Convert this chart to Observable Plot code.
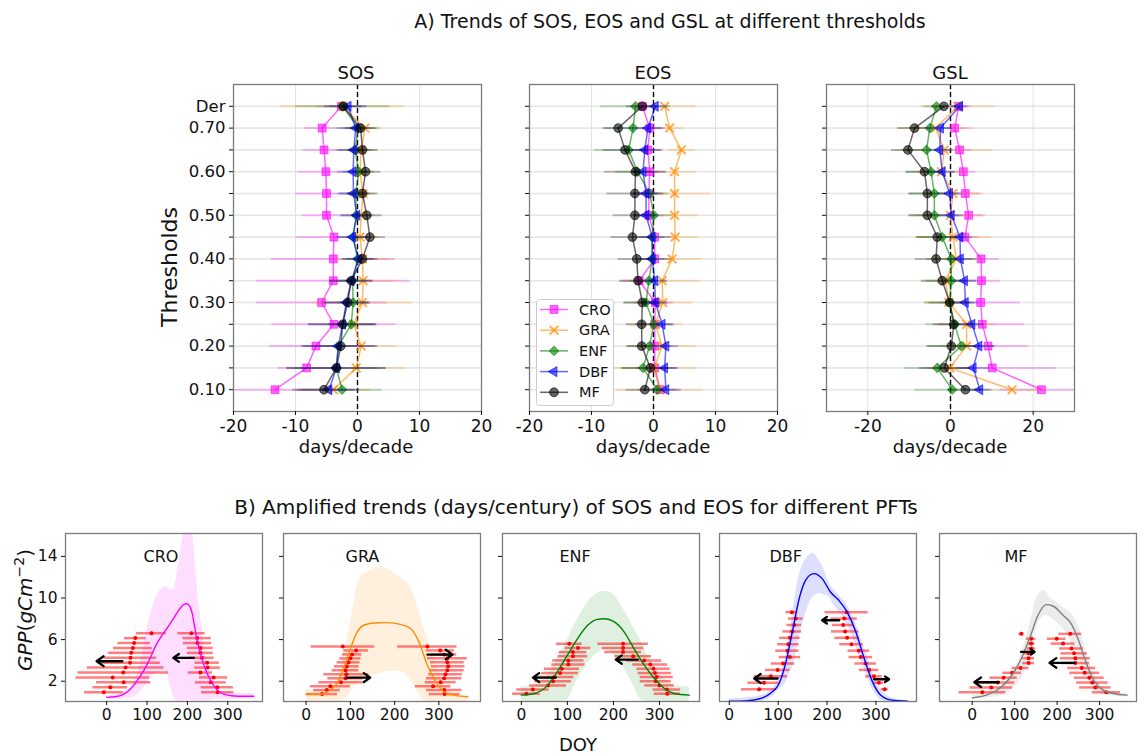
<!DOCTYPE html>
<html><head><meta charset="utf-8">
<script src="https://cdn.jsdelivr.net/npm/d3@7"></script>
<script src="https://cdn.jsdelivr.net/npm/@observablehq/plot@0.6"></script>
<style>
body{margin:0;background:#fff;}
#fig{position:relative;width:1144px;height:756px;overflow:hidden;font-family:"DejaVu Sans",sans-serif;color:#111;background:#fff;}
.abs{position:absolute;white-space:nowrap;line-height:1;}
</style></head><body><div id="fig"></div>
<script>
// ---------------- DATA ----------------
const levels = ["0.10","0.15","0.20","0.25","0.30","0.35","0.40","0.45","0.50","0.55","0.60","0.65","0.70","Der"];
const pfts = ["CRO","GRA","ENF","DBF","MF"];
const pftColors = ["#ff00ff","#ff8c00","#008000","#0000ff","#000000"];
const topPanels = ["SOS","EOS","GSL"];

// SOS trends (days/decade), thresholds 0.10 -> 0.70, then Der
const sosCRO = [-13.3,-8.2,-6.7,-3.8,-5.8,-3.9,-3.9,-3.8,-5.0,-5.0,-5.1,-5.4,-5.7,-2.6];
const sosGRA = [-3.9,-0.2,0.6,-0.6,0.8,0.9,0.8,0.4,0.6,0.9,0.4,0.6,1.2,-2.4];
const sosENF = [-2.5,-3.4,-3.1,-1.0,-0.7,-0.8,0.0,-0.7,-0.2,-0.3,0.2,-0.4,0.1,-2.4];
const sosDBF = [-4.6,-3.4,-3.1,-2.4,-1.8,-1.0,0.2,-0.8,-0.1,-0.65,-0.7,-0.6,-0.3,-1.5];
const sosMF  = [-5.4,-3.4,-2.7,-2.4,-1.6,-1.0,0.8,2.0,1.5,0.8,1.3,0.8,0.5,-2.3];
const sosErrCRO = [8,4.6,7.5,10,10.5,12.4,10,6,3.9,5,4.5,3.4,2.9,4];
const sosErrGRA = [6,7.9,5.7,3,8.1,5,4.2,3,2.3,2,1.9,2.7,2.7,10];
const sosErrENF = [6.4,6.7,3,3.8,2.5,2.5,2.5,2.5,2.5,2.5,2.5,3,3.4,7.6];
const sosErrDBF = [5,8,6,5.5,3.7,3.5,2.5,2.5,2.5,2.5,2.5,2.5,2.5,3];
const sosErrMF  = [5,8,6,5.5,3.7,3.5,2.5,2.5,2.5,2.5,2.5,2.5,2.5,3];

// EOS trends
const eosCRO = [1.1,0.2,0.2,0.2,0.3,-2.3,0.2,0.2,-0.75,-0.75,-0.6,-0.9,-0.6,-1.8];
const eosGRA = [1.0,0.1,1.4,0.3,1.5,1.4,3.0,3.5,3.4,3.4,3.4,4.5,2.6,1.8];
const eosENF = [0.6,-1.7,-0.65,0.05,-1.2,-0.75,-0.2,-0.2,0.05,-0.6,-2.6,-4.0,-3.3,-2.9];
const eosDBF = [2.0,1.8,2.0,1.4,0.3,0.2,-0.2,-0.2,-1.2,-1.2,-1.7,-1.4,-0.9,0.3];
const eosMF  = [-1.4,-0.5,-1.9,-1.9,-1.8,-2.5,-2.7,-3.4,-3.0,-3.0,-2.9,-4.6,-5.7,-1.8];
const eosErrCRO = [3,3,3,3,3,3,3,3,2.5,2.5,2.5,2.5,2.5,2];
const eosErrGRA = [7,7,5.5,4.5,4.7,6.2,4.8,3.8,3.8,5.7,3.6,2.2,2.2,5];
const eosErrENF = [3,3.5,3.5,3,3.5,3,3,3,3,3,3.5,5.5,4.5,5.7];
const eosErrDBF = [2.5,2,2,2,2,2,2,2,2,2,2,2.5,2.5,2];
const eosErrMF  = [3,4.5,2.5,2.5,3,3,3,3.5,3.5,4.5,5,3.5,2.5,2.6];

// GSL trends
const gslCRO = [22.0,10.1,9.1,7.7,7.3,7.5,7.4,3.5,4.4,3.6,3.1,2.2,1.0,2.0];
const gslGRA = [14.9,-0.2,3.9,3.9,-0.4,-1.2,1.4,0.6,0.0,0.6,-2.2,-1.5,-3.6,1.8];
const gslENF = [0.4,-3.2,2.6,1.0,-0.2,0.2,0.2,-2.0,-3.9,-3.9,-4.7,-5.8,-5.0,-3.4];
const gslDBF = [7.1,5.5,6.9,5.2,3.6,3.4,2.4,2.3,0.2,-0.2,-2.0,-2.6,-2.4,2.2];
const gslMF  = [3.6,-1.5,0.2,0.8,-0.2,-2.0,-3.5,-3.2,-5.6,-5.6,-6.3,-10.3,-8.7,-1.6];
const gslErrCRO = [10,15.5,9.7,10.3,9.6,4.5,4.4,3.5,3.5,3.5,3,3,3,3];
const gslErrGRA = [8,6,6,7,6,6,6,9.3,8.5,7.3,6,11.8,9.3,9];
const gslErrENF = [9,8,8,7,6,6,6,6,6,6,6,6,5,3];
const gslErrDBF = [3,4,4,3,3,3,3,3,3,3,3,3,3,2];
const gslErrMF  = [4,6,6,5,5,5,5,5,4.5,4.5,4.5,4,4,3];

const topXTicks = [[-20,-10,0,10,20],[-20,-10,0,10,20],[-20,0,20]];
const topXDomains = [[-20,20],[-20,20],[-30,30]];

// ---- Panel B: GPP seasonal curves (DOY, gC m-2) ----
const thresholds = [0.10,0.15,0.20,0.25,0.30,0.35,0.40,0.45,0.50,0.55,0.60,0.65,0.70];
const bottomTicksX = [0,100,200,300];
const bottomTicksY = [2,6,10,14];

const croCurveDOY = [0,20,40,60,80,100,110,120,135,150,165,180,190,198,206,212,218,225,235,245,260,275,290,310,340,365];
const croCurveGPP = [0.45,0.5,0.7,1.3,2.3,3.6,4.4,5.3,6.3,7.1,8.0,8.9,9.35,9.45,9.2,8.5,7.2,5.8,4.3,3.1,1.9,1.1,0.75,0.6,0.55,0.55];
const croBandDOY  = [0,30,55,70,85,100,115,130,142,150,158,167,175,185,195,205,215,222,230,237,245,252,262,275,300,330,365];
const croBandHigh = [0.6,0.75,1.3,2.0,4.0,7.0,9.3,10.6,11.0,11.1,10.8,10.8,12.5,15.0,17.0,17.5,15.5,12.0,9.0,7.0,4.5,3.2,2.3,1.3,0.9,0.85,0.8];
const croBandLow  = [0.3,0.3,0.3,0.5,1.0,1.8,2.5,2.9,3.0,2.8,1.5,0.3,0.1,0.1,0.1,0.1,0.1,0.1,0.1,0.1,0.1,0.1,0.2,0.3,0.3,0.3,0.3];
const croSOS = [-7,9,42,15,41,47,58,59,61,65,68,71,111];
const croSOSErr = [48,43,67,91,112,95,75,65,56,48,40,27,37];
const croEOS = [275,274,258,265,232,250,249,236,232,232,225,224,210];
const croEOSErr = [40,40,38,35,30,32,30,30,32,32,35,35,34];
const croArrowFrom = [39,216];
const croArrowTo = [-25,165];
const croArrowGPP = [3.92,4.24];

const graCurveDOY = [0,32,54,70,85,100,115,130,153,183,213,236,255,274,293,312,334,365];
const graCurveGPP = [0.75,0.75,1.14,1.78,3.2,5.1,6.7,7.38,7.6,7.63,7.47,7.06,5.78,3.54,1.94,0.98,0.66,0.5];
const graBandDOY  = [0,30,60,80,95,108,121,135,148,160,171,185,198,215,232,245,255,265,278,290,302,320,340,365];
const graBandHigh = [1.2,1.2,1.5,3.5,6.5,9.5,11.9,12.4,12.7,12.9,13.0,12.8,12.4,11.9,11.3,10.2,8.7,7.3,5.5,4.0,2.6,1.2,0.75,0.6];
const graBandLow  = [0.05,0.05,0.05,0.05,0.6,1.4,2.0,2.3,2.5,2.7,2.8,2.9,2.95,2.9,2.3,1.5,0.8,0.2,0.05,0.05,0.05,0.05,0.05,0.05];
const graSOS = [36,47,55,79,89,91,89,92,96,100,104,113,83];
const graSOSErr = [35,30,45,50,40,51,30,28,26,24,22,28,72];
const graEOS = [313,312,287,304,312,315,319,321,319,319,312,303,274];
const graEOSErr = [35,40,40,35,40,38,38,38,38,45,28,32,67];
const graArrowFrom = [92,274];
const graArrowTo = [145,331];
const graArrowGPP = [2.35,4.56];

const enfCurveDOY = [0,28,57,78,100,122,144,165,180,202,224,245,267,289,311,332,365];
const enfCurveGPP = [0.66,0.82,1.6,2.9,4.5,6.1,7.38,7.95,8.0,7.7,6.7,5.1,3.54,2.26,1.3,0.82,0.66];
const enfBandDOY  = [0,28,57,75,90,100,115,130,144,160,173,182,191,205,216,230,245,258,274,290,303,318,332,350,365];
const enfBandHigh = [1.46,1.6,2.6,3.9,5.2,6.0,7.4,8.6,9.6,10.3,10.6,10.65,10.6,10.1,9.3,8.3,7.06,6.0,4.5,3.4,2.6,2.0,1.6,1.5,1.46];
const enfBandLow  = [0.05,0.05,0.05,0.05,0.05,0.2,1.6,2.8,3.7,4.5,4.9,5.0,4.9,4.4,3.8,2.7,1.5,0.3,0.05,0.05,0.05,0.05,0.05,0.05,0.05];
const enfSOS = [11,25,58,69,72,84,88,102,102,112,112,123,104];
const enfSOSErr = [30,35,40,40,42,40,38,36,34,32,30,28,28];
const enfEOS = [317,316,300,292,294,290,287,280,267,243,221,221,221];
const enfEOSErr = [28,30,32,34,36,36,36,38,38,40,40,45,55];
const enfArrowFrom = [75,253];
const enfArrowTo = [25,205];
const enfArrowGPP = [2.35,4.08];

const dbfCurveDOY = [0,34,68,88,102,116,129,143,156,173,190,207,224,241,259,276,293,310,333,365];
const dbfCurveGPP = [0.08,0.11,0.4,0.98,1.78,3.86,6.74,9.94,11.7,12.34,11.86,10.58,9.78,8.66,6.74,4.18,1.94,0.66,0.18,0.08];
const dbfBandDOY  = [0,34,68,88,102,116,122,129,136,143,150,160,170,184,195,204,214,224,235,245,255,265,276,286,296,306,316,327,345,365];
const dbfBandHigh = [0.27,0.4,0.66,1.3,2.26,4.5,6.1,8.3,10.5,12.2,13.2,13.94,14.3,13.6,12.6,11.5,10.8,10.3,9.7,9.0,8.0,6.74,5.3,3.86,2.5,1.6,0.9,0.5,0.25,0.18];
const dbfBandLow  = [0.05,0.05,0.1,0.5,1.2,1.9,2.6,3.3,4.5,6.2,7.5,8.98,10.0,10.4,10.3,10.1,9.3,8.66,8.0,7.06,5.9,4.5,3.2,1.94,1.0,0.34,0.1,0.05,0.05,0.05];
const dbfSOS = [61,71,85,99,110,124,119,121,124,129,133,136,128];
const dbfSOSErr = [36,33,34,25,24,22,24,22,21,19,15,15,12];
const dbfEOS = [318,306,296,286,279,269,265,250,241,237,233,235,240];
const dbfEOSErr = [7,10,17,20,22,24,22,24,25,28,22,27,44];
const dbfArrowFrom = [99,225,296];
const dbfArrowTo = [51,190,327];
const dbfArrowGPP = [2.26,7.86,2.19];

const mfCurveDOY = [0,33,64,88,112,135,155,174,190,214,233,249,265,284,308,332,365];
const mfCurveGPP = [0.4,0.66,1.3,2.26,3.86,6.1,8.34,9.36,9.23,8.34,7.54,6.1,4.18,2.26,1.14,0.82,0.66];
const mfBandDOY  = [0,57,96,112,127,140,151,160,167,174,182,198,206,221,233,245,253,261,269,278,288,300,316,340,365];
const mfBandHigh = [0.66,1.3,2.9,4.3,6.1,8.2,9.94,10.5,10.74,10.6,10.1,9.6,9.3,8.9,8.5,7.8,7.06,5.9,4.82,3.6,2.6,1.8,1.14,0.9,0.82];
const mfBandLow  = [0.27,0.5,1.3,2.0,3.22,5.0,7.06,7.9,8.2,8.34,8.2,7.7,7.4,6.74,5.8,4.82,4.0,3.2,2.42,1.8,1.2,0.98,0.7,0.55,0.5];
const mfSOS = [24,45,60,74,94,114,133,133,133,139,139,139,116];
const mfSOSErr = [55,50,40,32,22,20,14,14,12,10,9,11,6];
const mfEOS = [316,290,283,276,265,258,243,243,240,234,214,199,231];
const mfEOSErr = [33,37,37,35,35,33,33,35,31,28,28,22,27];
const mfArrowFrom = [63,115,241];
const mfArrowTo = [5,147,182];
const mfArrowGPP = [1.9,4.82,3.76];

// ---------------- LAYOUT ----------------
const fig = document.getElementById("fig");
const FONT = "'DejaVu Sans', sans-serif";

function label(html, x, y, size, rotate=false) {
  const d = document.createElement("div");
  d.className = "abs";
  d.style.left = x + "px"; d.style.top = y + "px";
  d.style.fontSize = size + "px";
  d.style.transform = "translate(-50%,-50%)" + (rotate ? " rotate(-90deg)" : "");
  d.innerHTML = html;
  fig.appendChild(d);
}
function place(svg, left, top) {
  svg.style.position = "absolute";
  svg.style.left = left + "px";
  svg.style.top = top + "px";
  fig.appendChild(svg);
}

const topVals = [[sosCRO,sosGRA,sosENF,sosDBF,sosMF],[eosCRO,eosGRA,eosENF,eosDBF,eosMF],[gslCRO,gslGRA,gslENF,gslDBF,gslMF]];
const topErrs = [[sosErrCRO,sosErrGRA,sosErrENF,sosErrDBF,sosErrMF],[eosErrCRO,eosErrGRA,eosErrENF,eosErrDBF,eosErrMF],[gslErrCRO,gslErrGRA,gslErrENF,gslErrDBF,gslErrMF]];

const markerStyle = [
  {symbol:"square", r:4.4, fill:"#ff00ff", fillOpacity:0.6, stroke:"#ff00ff", strokeOpacity:0.6, strokeWidth:1},
  {symbol:"times", r:4.0, stroke:"#ff8c00", strokeOpacity:0.7, strokeWidth:2},
  {symbol:"square", rotate:45, r:3.7, fill:"#008000", fillOpacity:0.6, stroke:"#008000", strokeOpacity:0.6, strokeWidth:1},
  {symbol:"triangle", rotate:-90, r:3.7, fill:"#0000ff", fillOpacity:0.6, stroke:"#0000ff", strokeOpacity:0.6, strokeWidth:1},
  {symbol:"circle", r:4.4, fill:"#000000", fillOpacity:0.6, stroke:"#000000", strokeOpacity:0.6, strokeWidth:1}
];

const topFrameLeft = [233, 529, 826];
const TOP_Y = 84, TOP_W = 248, TOP_H = 327;

function topPanel(k) {
  const mL = 62, mR = 14, mT = 6, mB = 34;
  const marks = [
    Plot.gridY({ticks: d3.range(14), stroke: "#e6e6e6", strokeOpacity: 1, strokeWidth: 1.6}),
    Plot.gridX({ticks: topXTicks[k], stroke: "#e2e2e2", strokeOpacity: 1, strokeWidth: 1}),
    Plot.ruleX([0], {stroke: "#000", strokeWidth: 1.4, strokeDasharray: "5,3"})
  ];
  pfts.forEach((p, j) => {
    const rows = levels.map((lv, i) => ({i, v: topVals[k][j][i], e: topErrs[k][j][i]}));
    const c = pftColors[j];
    marks.push(Plot.ruleY(rows, {y: "i", x1: d => d.v - d.e, x2: d => d.v + d.e, stroke: c, strokeOpacity: 0.25, strokeWidth: 2, clip: true}));
    marks.push(Plot.line(rows, {x: "v", y: "i", stroke: c, strokeOpacity: 0.6, strokeWidth: 1.5}));
    marks.push(Plot.dot(rows, {x: "v", y: "i", ...markerStyle[j]}));
  });
  marks.push(Plot.frame({stroke: "#7a7a7a", strokeWidth: 1.3}));
  marks.push(Plot.axisX({ticks: topXTicks[k], tickFormat: d => String(d), tickSize: 4, tickPadding: 4, fontSize: 17, label: null}));
  marks.push(Plot.axisY({ticks: d3.range(14),
    tickFormat: k === 0 ? (i => i === 13 ? "Der" : (i % 2 === 0 ? levels[i] : "")) : (() => ""),
    tickSize: 4, tickPadding: 4, fontSize: 16.5, label: null}));
  const svg = Plot.plot({
    width: TOP_W + mL + mR, height: TOP_H + mT + mB,
    marginLeft: mL, marginRight: mR, marginTop: mT, marginBottom: mB,
    x: {domain: topXDomains[k]}, y: {domain: [-1, 14]},
    style: {fontFamily: FONT, fontSize: "16px", color: "#111", background: "transparent", overflow: "visible"},
    marks
  });
  place(svg, topFrameLeft[k] - mL, TOP_Y - mT);
}
[0,1,2].forEach(topPanel);

// Titles and labels, panel A
label("A) Trends of SOS, EOS and GSL at different thresholds", 670, 21, 19);
label("SOS", 356, 73, 18);
label("EOS", 653, 73, 18);
label("GSL", 950, 73, 18);
[356, 653, 950].forEach(x => label("days/decade", x, 447, 18));
label("Thresholds", 170, 267, 22, true);

// Legend in EOS panel
(function legend() {
  const sv = d3.select(fig).append("svg")
    .attr("width", 80).attr("height", 108)
    .style("position", "absolute").style("left", "536px").style("top", "299px")
    .style("font-family", FONT);
  sv.append("rect").attr("x", 0.5).attr("y", 0.5).attr("width", 77).attr("height", 106).attr("rx", 3)
    .attr("fill", "white").attr("fill-opacity", 0.85).attr("stroke", "#cccccc");
  const syms = [
    {t: d3.symbolSquare, s: 62, rot: 0, fill: true},
    {t: d3.symbolTimes, s: 50, rot: 0, fill: false},
    {t: d3.symbolSquare, s: 44, rot: 45, fill: true},
    {t: d3.symbolTriangle, s: 44, rot: -90, fill: true},
    {t: d3.symbolCircle, s: 62, rot: 0, fill: true}
  ];
  pfts.forEach((p, j) => {
    const y = 10.5 + j * 20.7, c = pftColors[j];
    sv.append("line").attr("x1", 4).attr("x2", 32).attr("y1", y).attr("y2", y)
      .attr("stroke", c).attr("stroke-opacity", 0.6).attr("stroke-width", 1.5);
    const g = sv.append("path").attr("d", d3.symbol(syms[j].t, syms[j].s)())
      .attr("transform", `translate(18,${y}) rotate(${syms[j].rot})`);
    if (syms[j].fill) g.attr("fill", c).attr("fill-opacity", 0.6).attr("stroke", c).attr("stroke-opacity", 0.6);
    else g.attr("fill", "none").attr("stroke", c).attr("stroke-opacity", 0.7).attr("stroke-width", 2);
    sv.append("text").attr("x", 43).attr("y", y).attr("dy", "0.35em").attr("font-size", 14.5).attr("fill", "#111").text(p);
  });
})();

// ---------------- PANEL B ----------------
const bottom = [
  {curveDOY: croCurveDOY, curveGPP: croCurveGPP, bandDOY: croBandDOY, bandLow: croBandLow, bandHigh: croBandHigh,
   sos: croSOS, sosErr: croSOSErr, eos: croEOS, eosErr: croEOSErr, aFrom: croArrowFrom, aTo: croArrowTo, aGPP: croArrowGPP},
  {curveDOY: graCurveDOY, curveGPP: graCurveGPP, bandDOY: graBandDOY, bandLow: graBandLow, bandHigh: graBandHigh,
   sos: graSOS, sosErr: graSOSErr, eos: graEOS, eosErr: graEOSErr, aFrom: graArrowFrom, aTo: graArrowTo, aGPP: graArrowGPP},
  {curveDOY: enfCurveDOY, curveGPP: enfCurveGPP, bandDOY: enfBandDOY, bandLow: enfBandLow, bandHigh: enfBandHigh,
   sos: enfSOS, sosErr: enfSOSErr, eos: enfEOS, eosErr: enfEOSErr, aFrom: enfArrowFrom, aTo: enfArrowTo, aGPP: enfArrowGPP},
  {curveDOY: dbfCurveDOY, curveGPP: dbfCurveGPP, bandDOY: dbfBandDOY, bandLow: dbfBandLow, bandHigh: dbfBandHigh,
   sos: dbfSOS, sosErr: dbfSOSErr, eos: dbfEOS, eosErr: dbfEOSErr, aFrom: dbfArrowFrom, aTo: dbfArrowTo, aGPP: dbfArrowGPP},
  {curveDOY: mfCurveDOY, curveGPP: mfCurveGPP, bandDOY: mfBandDOY, bandLow: mfBandLow, bandHigh: mfBandHigh,
   sos: mfSOS, sosErr: mfSOSErr, eos: mfEOS, eosErr: mfEOSErr, aFrom: mfArrowFrom, aTo: mfArrowTo, aGPP: mfArrowGPP}
];
const curveColors = ["#ff00ff", "#ff8c00", "#008000", "#0000ff", "#808080"];
const bandColors = ["#ff00ff", "#ff8c00", "#008000", "#0000ff", "#808080"];
const bandOpacity = [0.13, 0.13, 0.12, 0.13, 0.15];
const botFrameLeft = [65, 283, 502, 719, 939];
const botXDomains = [[-102, 386], [-51, 394], [-41, 387], [-20, 383], [-77, 387]];
const botLabelDx = [78, 62, 57, 50, 65];
const BOT_Y = 533, BOT_W = 197, BOT_H = 168;

function bottomPanel(k) {
  const B = bottom[k];
  const mL = 42, mR = 8, mT = 6, mB = 26;
  const curve = B.curveDOY.map((d, i) => ({d, g: B.curveGPP[i]}));
  const band = B.bandDOY.map((d, i) => ({d, lo: B.bandLow[i], hi: B.bandHigh[i]}));
  const peak = d3.max(B.curveGPP);
  const sos = thresholds.map((t, i) => ({g: t * peak, x: B.sos[i], e: B.sosErr[i]}));
  const eos = thresholds.map((t, i) => ({g: t * peak, x: B.eos[i], e: B.eosErr[i]}));
  const arrows = B.aFrom.map((f, i) => ({x1: f, x2: B.aTo[i], y: B.aGPP[i]}));
  const svg = Plot.plot({
    width: BOT_W + mL + mR, height: BOT_H + mT + mB,
    marginLeft: mL, marginRight: mR, marginTop: mT, marginBottom: mB,
    x: {domain: botXDomains[k]}, y: {domain: [0.05, 16.2]},
    style: {fontFamily: FONT, fontSize: "15px", color: "#111", background: "transparent", overflow: "visible"},
    marks: [
      Plot.areaY(band, {x: "d", y1: "lo", y2: "hi", fill: bandColors[k], fillOpacity: bandOpacity[k], curve: "monotone-x", clip: true}),
      Plot.ruleY(sos, {y: "g", x1: d => d.x - d.e, x2: d => d.x + d.e, stroke: "#ff0000", strokeOpacity: 0.5, strokeWidth: 2.5, clip: true}),
      Plot.ruleY(eos, {y: "g", x1: d => d.x - d.e, x2: d => d.x + d.e, stroke: "#ff0000", strokeOpacity: 0.5, strokeWidth: 2.5, clip: true}),
      Plot.dot(sos, {x: "x", y: "g", r: 2, fill: "#ff0000"}),
      Plot.dot(eos, {x: "x", y: "g", r: 2, fill: "#ff0000"}),
      Plot.line(curve, {x: "d", y: "g", stroke: curveColors[k], strokeWidth: 1.4, curve: "monotone-x", clip: true}),
      Plot.arrow(arrows, {x1: "x1", x2: "x2", y1: "y", y2: "y", stroke: "#000", strokeWidth: 2.3, headLength: 7, headAngle: 70}),
      Plot.text([pfts[k]], {frameAnchor: "top-left", dx: botLabelDx[k], dy: 17, fontSize: 16, fill: "#111"}),
      Plot.frame({stroke: "#7a7a7a", strokeWidth: 1.3}),
      Plot.axisX({ticks: bottomTicksX, tickFormat: d => String(d), tickSize: 4, tickPadding: 3, fontSize: 15.5, label: null}),
      Plot.axisY({ticks: bottomTicksY, tickFormat: k === 0 ? (d => String(d)) : (() => ""), tickSize: 4, tickPadding: 4, fontSize: 15.5, label: null})
    ]
  });
  place(svg, botFrameLeft[k] - mL, BOT_Y - mT);
}
[0,1,2,3,4].forEach(bottomPanel);

label("B) Amplified trends (days/century) of SOS and EOS for different PFTs", 576, 507, 20);
label("<i>GPP</i>(<i>gCm</i><span style='font-size:0.7em;position:relative;top:-0.6em'>\u22122</span>)", 25, 610, 20, true);
label("DOY", 578, 745, 18);
</script></body></html>
